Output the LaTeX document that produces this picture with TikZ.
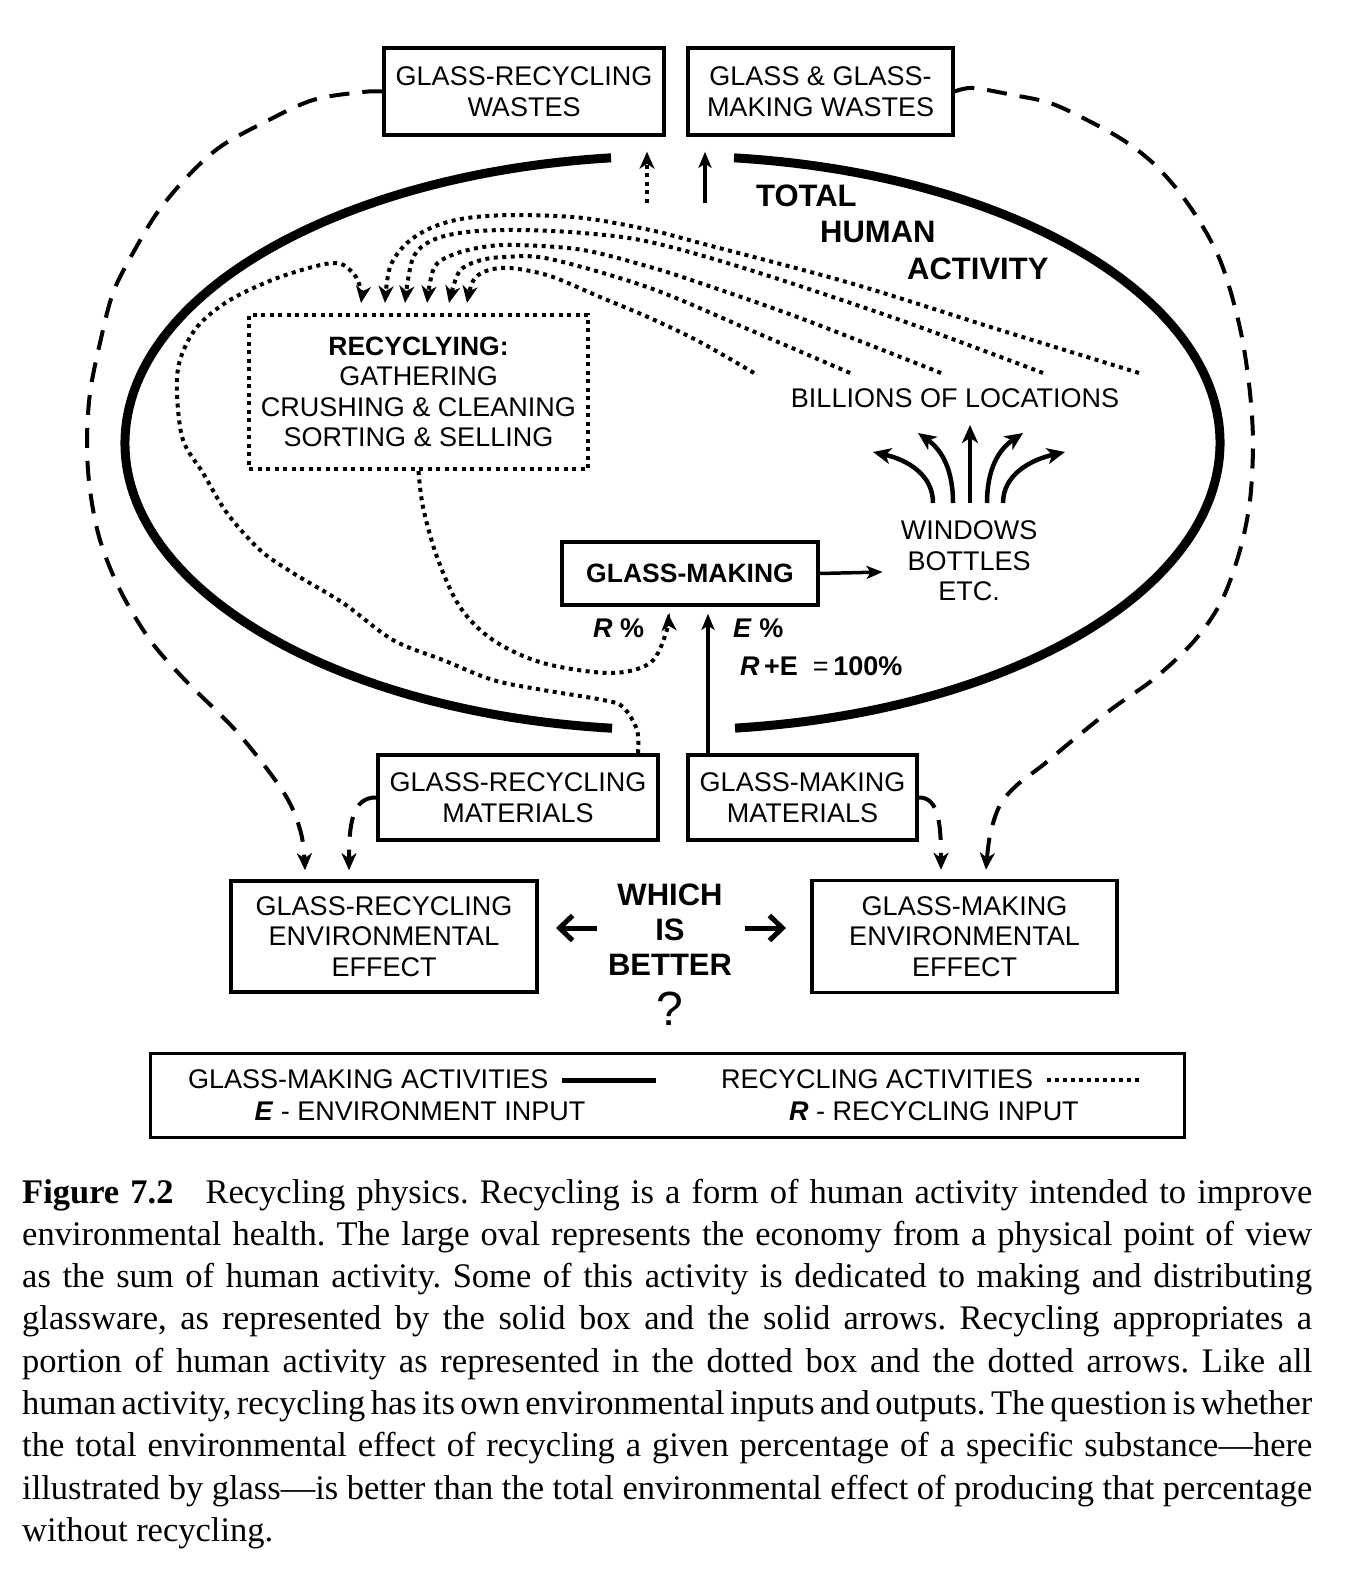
\documentclass[tikz,border=0pt]{standalone}
\usepackage{fontspec}
\setmainfont{Liberation Sans}
\newfontfamily\capfont{Liberation Serif}
\usetikzlibrary{arrows.meta}
\newcommand\myreg{\fontsize{27}{30.5}\selectfont}
\newcommand\mybig{\fontsize{31}{35}\selectfont\bfseries}
\newcommand\mymid{\fontsize{26.5}{30.5}\selectfont\bfseries}
\newcommand\capline[1]{{\frenchspacing\spaceskip=0.25em plus 0.6em minus 0.16em\makebox[1290pt][s]{#1}}}
\begin{document}
\begin{tikzpicture}[x=1pt,y=-1pt,
 box/.style={draw, line width=3.5pt, inner sep=0pt, align=center, font=\myreg},
 dotbox/.style={draw, line width=4pt, dash pattern=on 4pt off 4.5pt, inner sep=0pt, align=center, font=\myreg},
 oval/.style={line width=9pt},
 solidarr/.style={line width=3.5pt, -{Stealth[length=16pt,width=13pt,inset=4pt]}},
 fanarr/.style={line width=4.5pt, -{Stealth[length=18pt,width=16pt,inset=5pt]}},
 dotline/.style={line width=4pt, dash pattern=on 4pt off 4.5pt},
 dotarr/.style={dotline, -{Stealth[length=17pt,width=15pt,inset=5pt]}},
 dasharr/.style={line width=4pt, dash pattern=on 20pt off 13pt, -{Stealth[length=17pt,width=15pt,inset=5pt]}},
 whicharr/.style={line width=5pt, -{Straight Barb[length=13pt,width=25pt]}},
 lbl/.style={inner sep=0pt, font=\myreg},
 caption/.style={inner sep=0pt, anchor=base west, font=\capfont\fontsize{34.5}{42}\selectfont}
]
\useasboundingbox (0,0) rectangle (1354,1578);

% ---------- the big oval ----------
\draw[oval] (672.5,443) ++(96.34:547.5 and 287) arc[start angle=96.34, end angle=263.55, x radius=547.5, y radius=287];
\draw[oval] (672.5,443) ++(276.45:547.5 and 287) arc[start angle=276.45, end angle=443.44, x radius=547.5, y radius=287];

% ---------- boxes ----------
\node[box, minimum width=280pt, minimum height=87pt] (grw) at (524,91.5) {GLASS-RECYCLING\\WASTES};
\node[box, minimum width=265pt, minimum height=87pt] (ggmw) at (820.5,91.5) {GLASS \& GLASS-\\MAKING WASTES};
\node[dotbox, minimum width=339pt, minimum height=154pt] (rec) at (418.5,392) {{\mymid RECYCLYING:}\\GATHERING\\CRUSHING \& CLEANING\\SORTING \& SELLING};
\node[box, minimum width=256pt, minimum height=63pt, font=\mymid] (gm) at (690,573.5) {GLASS-MAKING};
\node[box, minimum width=280pt, minimum height=85pt] (grm) at (518,797.5) {GLASS-RECYCLING\\MATERIALS};
\node[box, minimum width=229pt, minimum height=85pt] (gmm) at (802.5,797.5) {GLASS-MAKING\\MATERIALS};
\node[box, minimum width=306pt, minimum height=111pt] (gree) at (384,936.5) {GLASS-RECYCLING\\ENVIRONMENTAL\\EFFECT};
\node[box, minimum width=305pt, minimum height=112pt] (gmee) at (964.5,936.5) {GLASS-MAKING\\ENVIRONMENTAL\\EFFECT};
\node[draw, line width=3pt, minimum width=1034pt, minimum height=84pt, inner sep=0pt] (leg) at (667,1095) {};

% ---------- labels ----------
\node[lbl, font=\mybig, anchor=base west] (tot) at (756,207) {TOTAL};
\node[lbl, font=\mybig, anchor=base west] (hum) at (820,243) {HUMAN};
\node[lbl, font=\mybig, anchor=base west] (act) at (907,280) {ACTIVITY};
\node[lbl, anchor=base] (bil) at (955,407) {BILLIONS OF LOCATIONS};
\node[lbl, align=center] (win) at (969,561) {WINDOWS\\BOTTLES\\ETC.};
\node[lbl, anchor=base west] (rpct) at (593,637) {\textbf{\textit{R}} \textbf{\%}};
\node[lbl, anchor=base west] (epct) at (733,637) {\textbf{\textit{E}} \textbf{\%}};
\node[lbl, anchor=base west] (rpe) at (740,675) {\textbf{\textit{R}}\,\textbf{+E}\ \ =\,\textbf{100\%}};
\node[lbl, align=center, font=\mybig] (which) at (670,930) {WHICH\\IS\\BETTER};
\node[lbl, anchor=base, font=\fontsize{48}{48}\selectfont] (q) at (670,1025) {?};

% legend texts
\node[lbl, anchor=base west] (lg1) at (188,1088) {GLASS-MAKING ACTIVITIES};
\node[lbl, anchor=base west] (lg2) at (721,1088) {RECYCLING ACTIVITIES};
\node[lbl, anchor=base] (lg3) at (420,1120) {\textbf{\textit{E}} - ENVIRONMENT INPUT};
\node[lbl, anchor=base] (lg4) at (934,1120) {\textbf{\textit{R}} - RECYCLING INPUT};
\coordinate (ls1) at (562,1080); \coordinate (ls2) at (656,1080);
\coordinate (ld1) at (1047,1080); \coordinate (ld2) at (1143,1080);
\draw[line width=5pt] (ls1) -- (ls2);
\draw[line width=3.5pt, dash pattern=on 3.5pt off 4.5pt] (ld1) -- (ld2);

% ---------- top arrows to waste boxes ----------
\coordinate (td) at (647,203);
\coordinate (ts) at (705,203);
\draw[dotarr] (td) -- ([xshift=123pt,yshift=-15pt]grw.south);
\draw[solidarr] (ts) -- ([xshift=-115.5pt,yshift=-15pt]ggmw.south);

% ---------- big dashed curves ----------
\draw[dasharr] plot[smooth, tension=0.55] coordinates {(grw.west) (363,92) (313,100) (263,123) (220,147) (187,177) (157,213) (133,253) (113,293) (100,343) (90,393) (87,443) (90,490) (100,540) (120,590) (150,640) (185,680) (238,733) (284,793) (301,833) ([xshift=-79pt,yshift=9pt]gree.north)};
\draw[dasharr] plot[smooth, tension=0.55] coordinates {(ggmw.east) (973,88) (1013,95) (1050,103) (1087,120) (1123,140) (1153,163) (1180,193) (1203,227) (1220,260) (1233,300) (1243,343) (1250,393) (1253,443) (1250,500) (1240,550) (1222,600) (1195,640) (1155,678) (1113,708) (1073,740) (1043,765) (1017,785) (1000,805) (990,835) ([xshift=21.5pt,yshift=9pt]gmee.north)};
\draw[dasharr] (grm.west) .. controls (352,797) and (349,825) .. ([xshift=-35pt,yshift=9pt]gree.north);
\draw[dasharr] (gmm.east) .. controls (939,797) and (941,825) .. ([xshift=-23.5pt,yshift=9pt]gmee.north);

% ---------- dotted recycling flows ----------
\draw[dotarr] plot[smooth, tension=0.55] coordinates {([xshift=120pt]grm.north) (637,730) (623,707) (603,700) (543,690) (493,680) (443,660) (393,640) (343,603) (293,573) (260,550) (227,513) (203,473) (183,440) (177,393) (180,360) (197,327) (230,300) (280,277) (333,263) (353,273) (361,290) ([xshift=-57.5pt,yshift=10pt]rec.north)};
\draw[dotarr] plot[smooth, tension=0.55] coordinates {(rec.south) (423,507) (437,557) (460,607) (493,640) (543,663) (610,673) (650,663) (666,633) ([xshift=-22pt,yshift=-7pt]gm.south)};

\coordinate (loc1) at (1139,373);
\coordinate (loc2) at (1043,373);
\coordinate (loc3) at (941,373);
\coordinate (loc4) at (850,373);
\coordinate (loc5) at (754,373);
\draw[dotarr] plot[smooth, tension=0.55] coordinates {(loc1) (1000,330) (850,283) (700,243) (650,230) (583,218) (517,215) (467,218) (433,227) (407,243) (390,267) ([xshift=-33.5pt,yshift=10pt]rec.north)};
\draw[dotarr] plot[smooth, tension=0.55] coordinates {(loc2) (900,320) (750,270) (650,242) (583,233) (517,230) (467,232) (433,240) (413,258) ([xshift=-13.5pt,yshift=10pt]rec.north)};
\draw[dotarr] plot[smooth, tension=0.55] coordinates {(loc3) (800,318) (700,283) (650,267) (583,250) (517,245) (483,247) (452,255) (434,268) ([xshift=8.5pt,yshift=10pt]rec.north)};
\draw[dotarr] plot[smooth, tension=0.55] coordinates {(loc4) (750,330) (650,288) (550,259) (505,257) (478,261) (459,272) ([xshift=30.5pt,yshift=10pt]rec.north)};
\draw[dotarr] plot[smooth, tension=0.55] coordinates {(loc5) (700,342) (650,318) (600,297) (550,276) (510,268) (486,271) (473,281) ([xshift=48.5pt,yshift=10pt]rec.north)};

% ---------- glass-making flows ----------
\draw[solidarr] ([xshift=-94.5pt]gmm.north) -- ([xshift=18pt,yshift=-7pt]gm.south);
\draw[solidarr] (gm.east) -- ([xshift=-18pt,yshift=-11pt]win.west);

% fan of arrows above WINDOWS
\coordinate (f1s) at (933,503); \coordinate (f1e) at (873,452);
\coordinate (f2s) at (953,503); \coordinate (f2e) at (918,433);
\coordinate (f3s) at (970,503); \coordinate (f3e) at (970,425);
\coordinate (f4s) at (987,503); \coordinate (f4e) at (1023,433);
\coordinate (f5s) at (1003,503); \coordinate (f5e) at (1065,452);
\draw[fanarr] (f1s) .. controls (933,475) and (908,460) .. (f1e);
\draw[fanarr] (f2s) .. controls (953,470) and (942,450) .. (f2e);
\draw[fanarr] (f3s) -- (f3e);
\draw[fanarr] (f4s) .. controls (987,470) and (998,450) .. (f4e);
\draw[fanarr] (f5s) .. controls (1003,475) and (1030,460) .. (f5e);

% which is better arrows
\coordinate (wl1) at (597,928); \coordinate (wl2) at (556,928);
\coordinate (wr1) at (745,928); \coordinate (wr2) at (786,928);
\draw[whicharr] (wl1) -- (wl2);
\draw[whicharr] (wr1) -- (wr2);

% ---------- caption ----------
\node[caption] (cap1) at (22,1203) {\capline{\textbf{Figure 7.2}\hspace{32pt}Recycling physics. Recycling is a form of human activity intended to improve}};
\node[caption] (cap2) at (22,1245.3) {\capline{environmental health. The large oval represents the economy from a physical point of view}};
\node[caption] (cap3) at (22,1287.6) {\capline{as the sum of human activity. Some of this activity is dedicated to making and distributing}};
\node[caption] (cap4) at (22,1329.9) {\capline{glassware, as represented by the solid box and the solid arrows. Recycling appropriates a}};
\node[caption] (cap5) at (22,1372.2) {\capline{portion of human activity as represented in the dotted box and the dotted arrows. Like all}};
\node[caption] (cap6) at (22,1414.5) {\capline{human activity, recycling has its own environmental inputs and outputs. The question is whether}};
\node[caption] (cap7) at (22,1456.8) {\capline{the total environmental effect of recycling a given percentage of a specific substance—here}};
\node[caption] (cap8) at (22,1499.1) {\capline{illustrated by glass—is better than the total environmental effect of producing that percentage}};
\node[caption] (cap9) at (22,1541.4) {\frenchspacing without recycling.};
\end{tikzpicture}
\end{document}
